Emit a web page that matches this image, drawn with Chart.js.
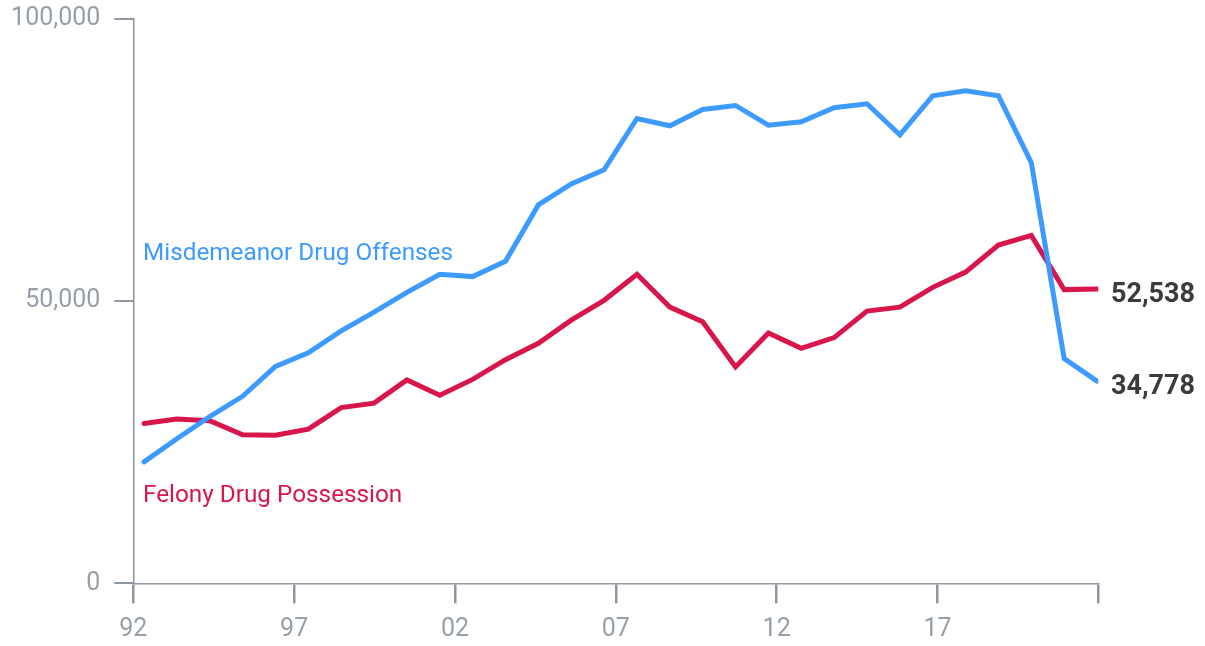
<!DOCTYPE html>
<html>
<head>
<meta charset="utf-8">
<script src="https://cdn.jsdelivr.net/npm/chart.js@4"></script>
<style>
  body { margin: 0; background: #fff; }
  #wrap { width: 1205px; height: 646px; }
</style>
</head>
<body>
<div id="wrap"><canvas id="chart" width="1205" height="646"></canvas></div>
<script>
// Datos (1992 - 2021)
const years = [1992, 1993, 1994, 1995, 1996, 1997, 1998, 1999, 2000, 2001,
  2002, 2003, 2004, 2005, 2006, 2007, 2008, 2009, 2010, 2011,
  2012, 2013, 2014, 2015, 2016, 2017, 2018, 2019, 2020, 2021];

const misdemeanor = [21500, 25600, 29500, 33100, 38400, 40800, 44700, 48000, 51500, 54700,
  54300, 57000, 67000, 70700, 73200, 82300, 81000, 83900, 84600, 81100,
  81700, 84200, 84900, 79400, 86300, 87200, 86300, 74500, 39800, 35800];

const felony = [28300, 29100, 28800, 26300, 26200, 27300, 31100, 31900, 36000, 33300,
  36100, 39600, 42500, 46600, 50100, 54700, 48900, 46300, 38300, 44300,
  41600, 43500, 48200, 48900, 52400, 55100, 59900, 61600, 52000, 52100];

const xTickLabels = ['92', '97', '02', '07', '12', '17', ''];
const yTicks = [0, 50000, 100000];
const seriesNames = ['Misdemeanor Drug Offenses', 'Felony Drug Possession'];
const endLabels = ['34,778', '52,538'];

const BLUE = '#3d9bff';
const RED = '#d8164b';
const AXIS = '#8e979f';
const TICK_TEXT = '#969fa7';

// Etiquetas de texto: nombres de series y valores finales
const labelsPlugin = {
  id: 'labels',
  afterDatasetsDraw(chart) {
    const ctx = chart.ctx;
    const xd = chart.scales.xd;
    const y = chart.scales.y;
    ctx.save();

    // nombres de las series
    ctx.font = '24.3px Roboto';
    ctx.textAlign = 'left';
    ctx.textBaseline = 'alphabetic';
    ctx.fillStyle = BLUE;
    ctx.fillText(seriesNames[0], xd.getPixelForValue(years[0]) - 1, y.getPixelForValue(57200));
    ctx.fillStyle = RED;
    ctx.fillText(seriesNames[1], xd.getPixelForValue(years[0]) - 1, y.getPixelForValue(14350));

    // valores al final de cada línea
    ctx.font = 'bold 27px Roboto';
    ctx.textAlign = 'right';
    ctx.fillStyle = '#3b3b3b';
    const lastX = xd.getPixelForValue(years[years.length - 1]);
    chart.data.datasets.forEach((ds, i) => {
      const last = ds.data[ds.data.length - 1];
      ctx.fillText(endLabels[i], lastX + 98, y.getPixelForValue(last.y) + 13);
    });
    ctx.restore();
  }
};

const ctx = document.getElementById('chart').getContext('2d');
new Chart(ctx, {
  type: 'line',
  data: {
    datasets: [{
      label: seriesNames[0],
      data: years.map((yr, i) => ({ x: yr, y: misdemeanor[i] })),
      borderColor: BLUE,
      xAxisID: 'xd'
    }, {
      label: seriesNames[1],
      data: years.map((yr, i) => ({ x: yr, y: felony[i] })),
      borderColor: RED,
      xAxisID: 'xd'
    }]
  },
  options: {
    responsive: false,
    animation: false,
    devicePixelRatio: 1,
    layout: { padding: { left: 0, right: 106.7, top: 18.5, bottom: 0 } },
    elements: {
      line: { borderWidth: 5, tension: 0, borderCapStyle: 'round', borderJoinStyle: 'miter', fill: false },
      point: { radius: 0, hoverRadius: 0 }
    },
    plugins: {
      legend: { display: false },
      tooltip: { enabled: false }
    },
    scales: {
      // eje oculto para los datos
      xd: {
        type: 'linear',
        display: false,
        min: 1991.674,
        max: 2021.039
      },
      // eje visible con las marcas de año
      x: {
        type: 'linear',
        position: 'bottom',
        min: 0,
        max: xTickLabels.length - 1,
        afterFit(scale) {
          scale.height = 62.7;
          scale.paddingLeft = 0;
          scale.paddingRight = 0;
        },
        ticks: {
          stepSize: 1,
          padding: 11,
          color: TICK_TEXT,
          font: { family: 'Roboto', size: 25 },
          maxRotation: 0,
          autoSkip: false,
          callback: (v) => xTickLabels[v]
        },
        grid: { drawOnChartArea: false, drawTicks: true, tickLength: 20, color: AXIS, lineWidth: 2.5 },
        border: { display: true, color: AXIS, width: 1.5 }
      },
      y: {
        type: 'linear',
        min: 0,
        max: 100000,
        afterFit(scale) {
          scale.width = 133.3;
          scale.paddingTop = 0;
          scale.paddingBottom = 0;
        },
        afterBuildTicks(scale) { scale.ticks = yTicks.map(v => ({ value: v })); },
        ticks: {
          padding: 14,
          color: TICK_TEXT,
          font: { family: 'Roboto', size: 25 },
          callback: (v) => v.toLocaleString('en-US')
        },
        grid: { drawOnChartArea: false, drawTicks: true, tickLength: 19, color: AXIS, lineWidth: 2 },
        border: { display: true, color: AXIS, width: 1.5 }
      }
    }
  },
  plugins: [labelsPlugin]
});
</script>
</body>
</html>
